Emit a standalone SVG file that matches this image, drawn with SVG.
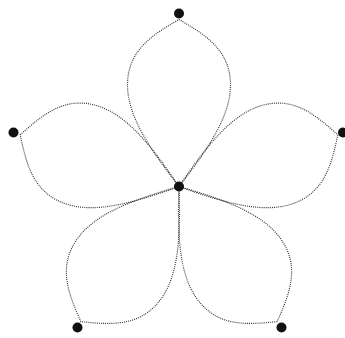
<svg xmlns="http://www.w3.org/2000/svg" xmlns:xlink="http://www.w3.org/1999/xlink" width="345" height="338" viewBox="0 0 345 338">
<style>
.petal{fill:none;stroke:#333;stroke-width:1.15;stroke-dasharray:1 1.1}
.dot{fill:#111}
</style>
<defs>
<path id="petal" d="M179,186.5 C148.2,147.1 127.5,115 127.5,85 C127.5,50 153,34.5 179,19.5 C205,34.5 230.5,50 230.5,85 C230.5,115 209.8,147.1 179,186.5"/>
</defs>
<rect width="345" height="338" fill="#fff"/>
<g id="connectors">
<use xlink:href="#petal" class="petal"/>
<use xlink:href="#petal" class="petal" transform="rotate(72 179 186.5)"/>
<use xlink:href="#petal" class="petal" transform="rotate(144 179 186.5)"/>
<use xlink:href="#petal" class="petal" transform="rotate(216 179 186.5)"/>
<use xlink:href="#petal" class="petal" transform="rotate(288 179 186.5)"/>
</g>
<g id="center"><circle class="dot" cx="179" cy="186.5" r="5"/></g>
<g id="tip-top"><circle class="dot" cx="179" cy="13.5" r="5"/></g>
<g id="tip-right"><circle class="dot" cx="343" cy="132.5" r="5"/></g>
<g id="tip-bottom-right"><circle class="dot" cx="281.5" cy="327.5" r="5"/></g>
<g id="tip-bottom-left"><circle class="dot" cx="77.5" cy="327.5" r="5"/></g>
<g id="tip-left"><circle class="dot" cx="13.5" cy="132.5" r="5"/></g>
</svg>
